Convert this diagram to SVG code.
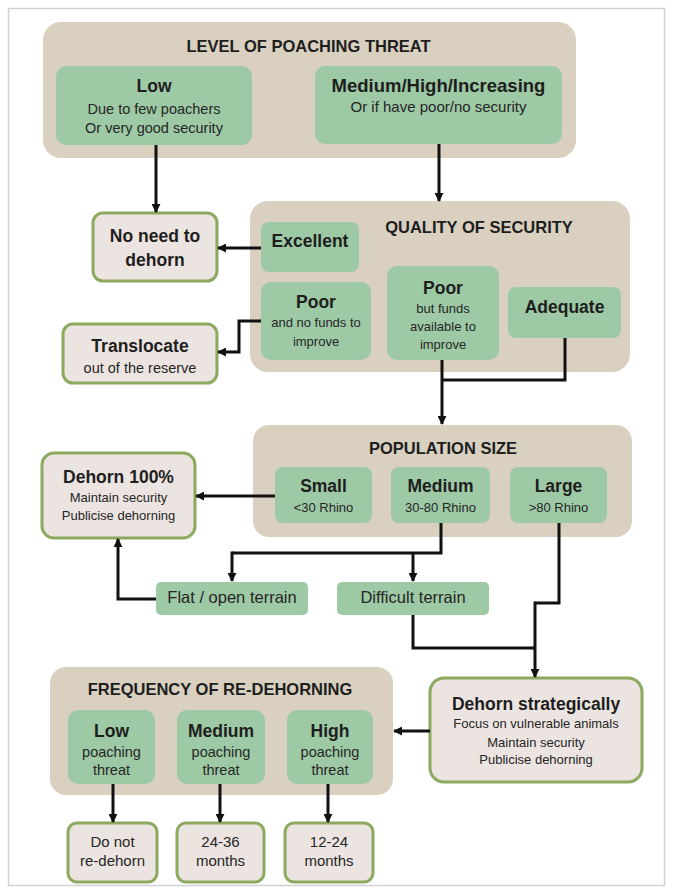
<svg xmlns="http://www.w3.org/2000/svg" width="673" height="891" viewBox="0 0 673 891">
<defs>
<style>
text{font-family:"Liberation Sans",Arial,sans-serif;text-anchor:middle;fill:#262626}
.t{font-size:16.5px;font-weight:bold;fill:#1e1e1e}
.h{font-size:17.5px;font-weight:bold;fill:#1e1e1e}
.s{font-size:14.5px}
.xs{font-size:13px}
.m{font-size:16.5px}
.b{font-size:15px}
.cont{fill:#d9d0c0}
.g{fill:#9dc9a5}
.o{fill:#ece4e0;stroke:#8caa5f;stroke-width:3}
.c{fill:none;stroke:#111;stroke-width:3;marker-end:url(#ah)}
.cl{fill:none;stroke:#111;stroke-width:3}
</style>
<marker id="ah" viewBox="0 0 10 10" refX="9" refY="5" markerWidth="3" markerHeight="3" orient="auto" markerUnits="strokeWidth">
<path d="M0,0 L10,5 L0,10 z" fill="#111"/>
</marker>
</defs>
<rect x="0" y="0" width="673" height="891" fill="#ffffff"/>
<rect x="8.5" y="8.5" width="656" height="877" fill="none" stroke="#d2d2d2" stroke-width="1.5"/>

<g id="level">
<rect class="cont" x="43" y="22" width="533" height="136" rx="18"/>
<text class="t" x="308.5" y="52">LEVEL OF POACHING THREAT</text>
</g>
<g id="level-low">
<rect class="g" x="56" y="66" width="196" height="79" rx="10"/>
<text class="h" x="154" y="92">Low</text>
<text class="s" x="154" y="114">Due to few poachers</text>
<text class="s" x="154" y="133">Or very good security</text>
</g>
<g id="level-high">
<rect class="g" x="315" y="66" width="247" height="78" rx="10"/>
<text class="h" x="438.5" y="92" style="font-size:18.5px">Medium/High/Increasing</text>
<text class="s" x="438.5" y="112" style="font-size:15px">Or if have poor/no security</text>
</g>

<g id="no-need">
<rect class="o" x="93" y="213" width="124" height="68" rx="10"/>
<text class="h" x="155" y="242">No need to</text>
<text class="h" x="155" y="266">dehorn</text>
</g>

<g id="quality">
<rect class="cont" x="250" y="201" width="380" height="171" rx="18"/>
<text class="t" x="479" y="233">QUALITY OF SECURITY</text>
</g>
<g id="q-excellent">
<rect class="g" x="261" y="222" width="98" height="50" rx="8"/>
<text class="h" x="310" y="247">Excellent</text>
</g>
<g id="q-poor-nofunds">
<rect class="g" x="261" y="282" width="110" height="78" rx="10"/>
<text class="h" x="316" y="308">Poor</text>
<text class="xs" x="316" y="327">and no funds to</text>
<text class="xs" x="316" y="346">improve</text>
</g>
<g id="q-poor-funds">
<rect class="g" x="387" y="266" width="112" height="94" rx="10"/>
<text class="h" x="443" y="294">Poor</text>
<text class="xs" x="443" y="313">but funds</text>
<text class="xs" x="443" y="331">available to</text>
<text class="xs" x="443" y="349">improve</text>
</g>
<g id="q-adequate">
<rect class="g" x="508" y="287" width="113" height="51" rx="8"/>
<text class="h" x="564.5" y="313">Adequate</text>
</g>

<g id="translocate">
<rect class="o" x="63" y="324" width="154" height="59" rx="10"/>
<text class="h" x="140" y="352">Translocate</text>
<text class="s" x="140" y="373">out of the reserve</text>
</g>

<g id="population">
<rect class="cont" x="253" y="425" width="379" height="112" rx="16"/>
<text class="t" x="443" y="454">POPULATION SIZE</text>
</g>
<g id="p-small">
<rect class="g" x="275" y="467" width="97" height="56" rx="8"/>
<text class="h" x="323.5" y="492">Small</text>
<text class="xs" x="323.5" y="512">&lt;30 Rhino</text>
</g>
<g id="p-medium">
<rect class="g" x="391" y="467" width="99" height="56" rx="8"/>
<text class="h" x="440.5" y="492">Medium</text>
<text class="xs" x="440.5" y="512">30-80 Rhino</text>
</g>
<g id="p-large">
<rect class="g" x="510" y="467" width="97" height="56" rx="8"/>
<text class="h" x="558.5" y="492">Large</text>
<text class="xs" x="558.5" y="512">&gt;80 Rhino</text>
</g>

<g id="dehorn-100">
<rect class="o" x="42" y="453" width="153" height="85" rx="12"/>
<text class="h" x="118.5" y="483">Dehorn 100%</text>
<text class="xs" x="118.5" y="502">Maintain security</text>
<text class="xs" x="118.5" y="520">Publicise dehorning</text>
</g>

<g id="flat-terrain">
<rect class="g" x="156" y="582" width="152" height="33" rx="5"/>
<text class="m" x="232" y="603">Flat / open terrain</text>
</g>
<g id="difficult-terrain">
<rect class="g" x="337" y="582" width="152" height="33" rx="5"/>
<text class="m" x="413" y="603">Difficult terrain</text>
</g>

<g id="dehorn-strategically">
<rect class="o" x="430" y="678" width="212" height="104" rx="14"/>
<text class="h" x="536" y="710">Dehorn strategically</text>
<text class="xs" x="536" y="728">Focus on vulnerable animals</text>
<text class="xs" x="536" y="747">Maintain security</text>
<text class="xs" x="536" y="764">Publicise dehorning</text>
</g>

<g id="frequency">
<rect class="cont" x="50" y="667" width="343" height="128" rx="16"/>
<text class="t" x="220" y="695">FREQUENCY OF RE-DEHORNING</text>
</g>
<g id="f-low">
<rect class="g" x="68" y="710" width="87" height="74" rx="10"/>
<text class="h" x="111.5" y="737">Low</text>
<text class="s" x="111.5" y="757">poaching</text>
<text class="s" x="111.5" y="775">threat</text>
</g>
<g id="f-medium">
<rect class="g" x="177" y="710" width="88" height="74" rx="10"/>
<text class="h" x="221" y="737">Medium</text>
<text class="s" x="221" y="757">poaching</text>
<text class="s" x="221" y="775">threat</text>
</g>
<g id="f-high">
<rect class="g" x="287" y="710" width="86" height="74" rx="10"/>
<text class="h" x="330" y="737">High</text>
<text class="s" x="330" y="757">poaching</text>
<text class="s" x="330" y="775">threat</text>
</g>

<g id="do-not">
<rect class="o" x="68" y="823" width="89" height="59" rx="9"/>
<text class="b" x="112.5" y="847">Do not</text>
<text class="b" x="112.5" y="866">re-dehorn</text>
</g>
<g id="m24-36">
<rect class="o" x="177" y="823" width="87" height="59" rx="9"/>
<text class="b" x="220.5" y="847">24-36</text>
<text class="b" x="220.5" y="866">months</text>
</g>
<g id="m12-24">
<rect class="o" x="285" y="823" width="88" height="59" rx="9"/>
<text class="b" x="329" y="847">12-24</text>
<text class="b" x="329" y="866">months</text>
</g>

<g id="connectors">
<path class="c" d="M156,145 V212"/>
<path class="c" d="M439,144 V201"/>
<path class="c" d="M261,248 H218"/>
<path class="c" d="M261,321 H239 V352 H218"/>
<path class="c" d="M442,360 V424"/>
<path class="cl" d="M565,338 V380 H442"/>
<path class="c" d="M275,496 H196"/>
<path class="cl" d="M441,523 V553 H232"/>
<path class="c" d="M232,551.5 V581"/>
<path class="c" d="M413,553 V581"/>
<path class="c" d="M156,599 H118 V539"/>
<path class="cl" d="M559,523 V603 H535"/>
<path class="c" d="M535,601.5 V677"/>
<path class="cl" d="M413,615 V648 H535"/>
<path class="c" d="M430,731 H394"/>
<path class="c" d="M113,784 V822"/>
<path class="c" d="M220,784 V822"/>
<path class="c" d="M328,784 V822"/>
</g>
</svg>
